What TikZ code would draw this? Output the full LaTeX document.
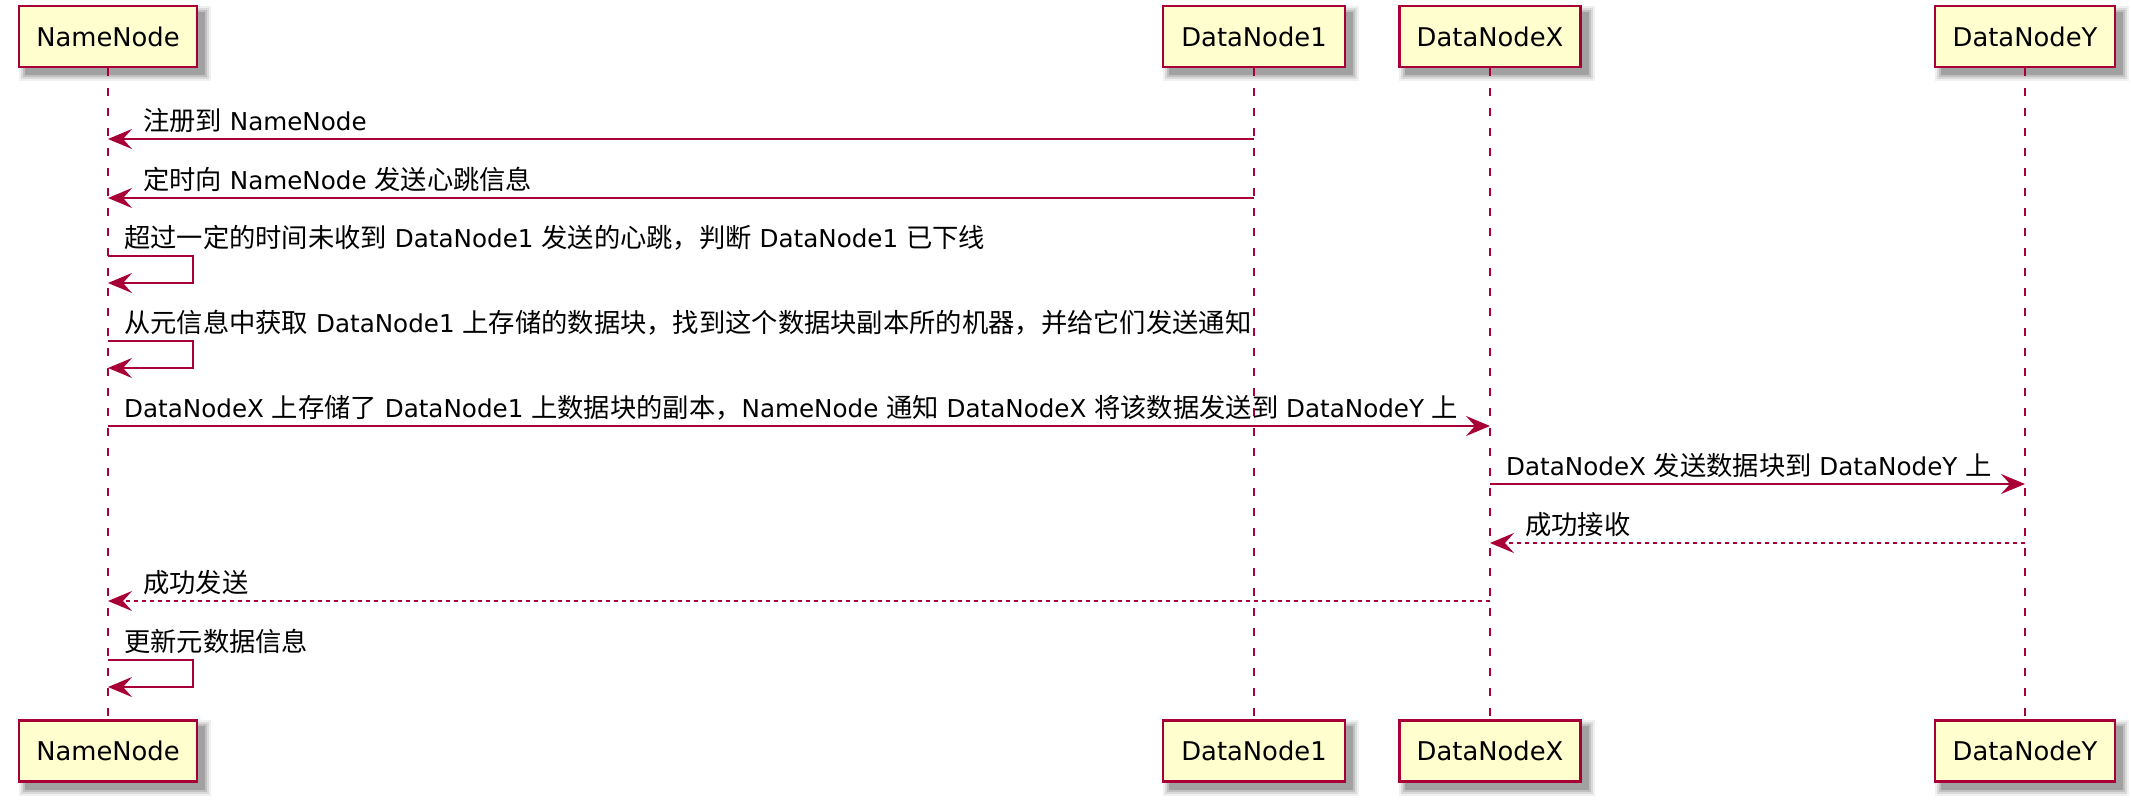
\documentclass[tikz,border=0pt]{standalone}
\usepackage{fontspec}
\setmainfont{DejaVu Sans}
\newfontfamily\cjk{Noto Sans CJK SC}[Scale=1.069]
\newcommand\zh[1]{{\cjk #1}}
\usetikzlibrary{arrows.meta}
\definecolor{pumlred}{HTML}{A80036}
\definecolor{pumlfill}{HTML}{FEFECE}
\pgfdeclarelayer{bg}
\pgfsetlayers{bg,main}
\begin{document}
\begin{tikzpicture}[x=1pt,y=-1pt,
  part/.style={draw=pumlred, line width=2.5pt, fill=pumlfill, minimum height=61pt, inner sep=0pt, text=black, font=\fontsize{25.8}{30}\selectfont},
  life/.style={draw=pumlred, line width=1.3pt, dash pattern=on 8pt off 12pt},
  msg/.style={draw=pumlred, line width=1.6pt, -{Stealth[length=24pt,width=20pt,inset=9pt]}},
  ret/.style={msg, dash pattern=on 4pt off 4pt},
  lbl/.style={anchor=base west, inner sep=0pt, text=black, font=\fontsize{24.6}{30}\selectfont}]
\useasboundingbox (0,0) rectangle (2131,801);

% participants
\node[part, minimum width=178pt] (nnT) at (108,36.5) {NameNode};
\node[part, minimum width=182pt] (d1T) at (1254,36.5) {DataNode1};
\node[part, minimum width=181pt] (dxT) at (1490,36.5) {DataNodeX};
\node[part, minimum width=180pt] (dyT) at (2025,36.5) {DataNodeY};
\node[part, minimum width=178pt] (nnB) at (108,751) {NameNode};
\node[part, minimum width=182pt] (d1B) at (1254,751) {DataNode1};
\node[part, minimum width=181pt] (dxB) at (1490,751) {DataNodeX};
\node[part, minimum width=180pt] (dyB) at (2025,751) {DataNodeY};

% shadows
\begin{pgfonlayer}{bg}
\foreach \n in {nnT,d1T,dxT,dyT,nnB,d1B,dxB,dyB}{
  \foreach \r/\o in {0/0.16,2/0.12,4/0.09,6/0.06}{
    \fill[black,opacity=\o] ([shift={(7-\r,7-\r)}]\n.north west) rectangle ([shift={(7+\r,7+\r)}]\n.south east);
  }
}
\end{pgfonlayer}

% lifelines
\draw[life] (nnT) -- (nnB);
\draw[life] (d1T) -- (d1B);
\draw[life] (dxT) -- (dxB);
\draw[life] (dyT) -- (dyB);

% message end points
\coordinate (m1a) at (d1T.center |- 0,139);
\coordinate (m1b) at (nnT.center |- 0,139);
\coordinate (m2a) at (d1T.center |- 0,198);
\coordinate (m2b) at (nnT.center |- 0,198);
\coordinate (m3a) at (nnT.center |- 0,256);
\coordinate (m3b) at (nnT.center |- 0,283);
\coordinate (m4a) at (nnT.center |- 0,341);
\coordinate (m4b) at (nnT.center |- 0,368);
\coordinate (m5a) at (nnT.center |- 0,426);
\coordinate (m5b) at (dxT.center |- 0,426);
\coordinate (m6a) at (dxT.center |- 0,484);
\coordinate (m6b) at (dyT.center |- 0,484);
\coordinate (m7a) at (dyT.center |- 0,543);
\coordinate (m7b) at (dxT.center |- 0,543);
\coordinate (m8a) at (dxT.center |- 0,601);
\coordinate (m8b) at (nnT.center |- 0,601);
\coordinate (m9a) at (nnT.center |- 0,660);
\coordinate (m9b) at (nnT.center |- 0,687);

% messages
\draw[msg] (m1a) -- (m1b);
\draw[msg] (m2a) -- (m2b);
\draw[msg] (m3a) -- ++(85,0) -- ++(0,27) -- (m3b);
\draw[msg] (m4a) -- ++(85,0) -- ++(0,27) -- (m4b);
\draw[msg] (m5a) -- (m5b);
\draw[msg] (m6a) -- (m6b);
\draw[ret] (m7a) -- (m7b);
\draw[ret] (m8a) -- (m8b);
\draw[msg] (m9a) -- ++(85,0) -- ++(0,27) -- (m9b);

% labels
\node[lbl] (l1) at (143,130.5) {\zh{注册到} NameNode};
\node[lbl] (l2) at (143,189.5) {\zh{定时向} NameNode \zh{发送心跳信息}};
\node[lbl] (l3) at (124,247.5) {\zh{超过一定的时间未收到} DataNode1 \zh{发送的心跳，判断} DataNode1 \zh{已下线}};
\node[lbl] (l4) at (124,332.5) {\zh{从元信息中获取} DataNode1 \zh{上存储的数据块，找到这个数据块副本所的机器，并给它们发送通知}};
\node[lbl] (l5) at (124,417.5) {DataNodeX \zh{上存储了} DataNode1 \zh{上数据块的副本，}NameNode \zh{通知} DataNodeX \zh{将该数据发送到} DataNodeY \zh{上}};
\node[lbl] (l6) at (1506,475.5) {DataNodeX \zh{发送数据块到} DataNodeY \zh{上}};
\node[lbl] (l7) at (1525,534.5) {\zh{成功接收}};
\node[lbl] (l8) at (143,592.5) {\zh{成功发送}};
\node[lbl] (l9) at (124,651.5) {\zh{更新元数据信息}};
\end{tikzpicture}
\end{document}
